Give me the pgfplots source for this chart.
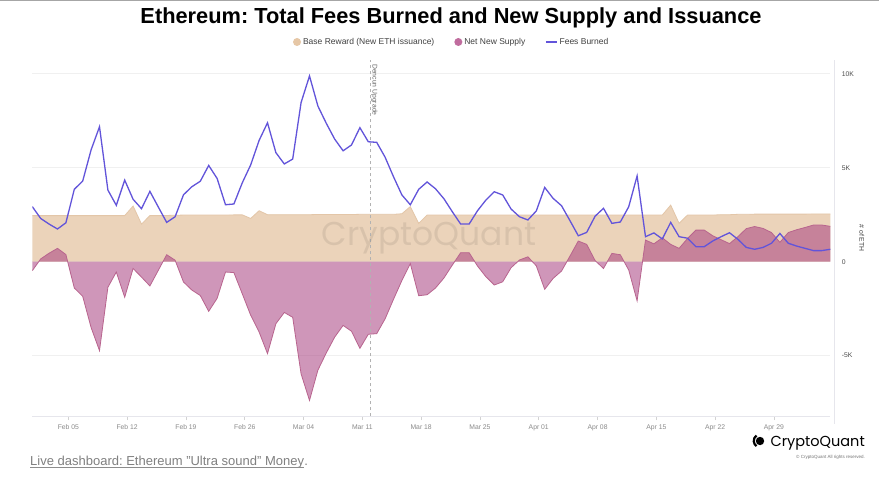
\documentclass[border=0pt]{standalone}
\usepackage{fontspec}
\setmainfont{Liberation Sans}
\newfontfamily\pop{Poppins}
\usepackage{pgfplots}
\pgfplotsset{compat=1.18}
\usepackage{pgfplotstable}
\definecolor{tanc}{HTML}{EBD3BA}
\definecolor{tanline}{HTML}{E3C6A8}
\definecolor{tanleg}{HTML}{E6C7A6}
\definecolor{pinkc}{RGB}{168,64,128}
\definecolor{pinkline}{HTML}{B8648E}
\definecolor{pinkleg}{HTML}{C06C9E}
\definecolor{feec}{HTML}{6254DA}
\definecolor{tickc}{HTML}{8A8A8A}
\definecolor{gridc}{HTML}{F0F0F0}
\definecolor{axc}{HTML}{E6E6EC}

\pgfplotstableread{
i base net fees
0 2.45 -0.48 2.93
1 2.45 0.15 2.30
2 2.45 0.45 2.00
3 2.45 0.71 1.74
4 2.45 0.38 2.07
5 2.45 -1.40 3.85
6 2.45 -1.84 4.29
7 2.45 -3.50 5.95
8 2.45 -4.73 7.18
9 2.45 -1.36 3.81
10 2.45 -0.55 3.00
11 2.45 -1.89 4.34
12 2.96 -0.36 3.32
13 2.00 -0.82 2.82
14 2.45 -1.29 3.74
15 2.45 -0.46 2.91
16 2.46 0.37 2.09
17 2.47 0.08 2.39
18 2.48 -1.08 3.56
19 2.48 -1.51 3.99
20 2.48 -1.80 4.28
21 2.48 -2.64 5.12
22 2.48 -1.95 4.43
23 2.48 -0.55 3.03
24 2.49 -0.58 3.07
25 2.49 -1.71 4.20
26 2.30 -2.85 5.15
27 2.71 -3.74 6.45
28 2.50 -4.89 7.39
29 2.50 -3.30 5.80
30 2.50 -2.70 5.20
31 2.50 -2.96 5.46
32 2.50 -5.97 8.47
33 2.50 -7.38 9.88
34 2.51 -5.77 8.28
35 2.51 -4.85 7.36
36 2.51 -4.01 6.52
37 2.51 -3.39 5.90
38 2.51 -3.70 6.21
39 2.52 -4.61 7.13
40 2.52 -3.86 6.38
41 2.52 -3.83 6.35
42 2.52 -3.04 5.56
43 2.52 -2.00 4.52
44 2.55 -1.00 3.55
45 2.93 -0.10 3.03
46 2.04 -1.81 3.85
47 2.48 -1.76 4.24
48 2.48 -1.40 3.88
49 2.48 -0.87 3.35
50 2.48 -0.18 2.66
51 2.48 0.48 2.00
52 2.48 0.48 2.00
53 2.48 -0.23 2.71
54 2.48 -0.80 3.28
55 2.48 -1.24 3.72
56 2.48 -1.07 3.55
57 2.48 -0.32 2.80
58 2.48 0.09 2.39
59 2.48 0.26 2.22
60 2.48 -0.22 2.70
61 2.48 -1.47 3.95
62 2.48 -0.89 3.37
63 2.48 -0.50 2.98
64 2.48 0.29 2.19
65 2.48 1.10 1.38
66 2.48 0.92 1.56
67 2.48 0.06 2.42
68 2.48 -0.36 2.84
69 2.48 0.44 2.04
70 2.48 0.37 2.11
71 2.48 -0.44 2.92
72 2.48 -2.08 4.56
73 2.48 1.15 1.33
74 2.48 0.95 1.53
75 2.48 1.27 1.21
76 3.01 0.92 2.09
77 2.04 0.71 1.33
78 2.48 1.23 1.25
79 2.48 1.68 0.80
80 2.48 1.68 0.80
81 2.48 1.38 1.10
82 2.50 1.17 1.33
83 2.50 0.96 1.54
84 2.52 1.33 1.19
85 2.52 1.76 0.76
86 2.53 1.87 0.66
87 2.53 1.77 0.76
88 2.53 1.55 0.98
89 2.53 1.03 1.50
90 2.53 1.55 0.98
91 2.53 1.70 0.83
92 2.53 1.82 0.71
93 2.54 1.95 0.59
94 2.54 1.95 0.59
95 2.54 1.88 0.66
}\datatable

\frenchspacing
\begin{document}
\begin{tikzpicture}
\useasboundingbox (0pt,0pt) rectangle (879pt,-491pt);
\fill[white] (0pt,0pt) rectangle (879pt,-491pt);
\draw[gray!70, line width=1.2pt] (0pt,-0.6pt) -- (879pt,-0.6pt);
\node[font=\bfseries\fontsize{21.8}{26}\selectfont] at (451pt,-18pt) {Ethereum: Total Fees Burned and New Supply and Issuance};
\begin{axis}[
  at={(32.3pt,-416pt)}, anchor=south west,
  scale only axis, width=798pt, height=356pt,
  xmin=0, xmax=95, ymin=-8.21, ymax=10.73,
  axis x line*=bottom, axis y line*=right,
  x axis line style={draw=axc, line width=0.8pt, -},
  y axis line style={draw=none},
  xtick={4.29,11.29,18.29,25.29,32.29,39.29,46.29,53.29,60.29,67.29,74.29,81.29,88.29},
  xticklabels={Feb 05,Feb 12,Feb 19,Feb 26,Mar 04,Mar 11,Mar 18,Mar 25,Apr 01,Apr 08,Apr 15,Apr 22,Apr 29},
  tick align=outside, major tick length=4pt,
  xtick style={draw=gray!35, line width=0.6pt},
  xticklabel style={font=\fontsize{6.8}{8}\selectfont, text=tickc, yshift=-1pt},
  ytick={-5,0,5,10}, yticklabels={-5K,0,5K,10K},
  ytick style={draw=none},
  yticklabel style={font=\fontsize{6.8}{8}\selectfont, text=black!70, anchor=west, xshift=4pt},
  ymajorgrids, grid style={gridc, line width=0.6pt},
  ylabel={\# of ETH},
  every axis y label/.style={at={(axis description cs:1,0.5)}, anchor=center, rotate=-90, yshift=31.5pt, font=\fontsize{6.8}{8}\selectfont, text=black!75},
  legend style={at={(axis description cs:0.5255,1.0506)}, anchor=center, draw=none, fill=none,
    font=\fontsize{8.5}{10}\selectfont, text=black!75, legend columns=3,
    /tikz/every even column/.append style={column sep=18pt}},
  legend cell align=left,
]
\addplot[fill=tanc, draw=none,
  legend image code/.code={\fill[tanleg] (4pt,0pt) circle (4pt);}]
  table[x=i,y=base]{\datatable} \closedcycle;
\addlegendentry{Base Reward (New ETH issuance)}
\addplot[fill=pinkc, fill opacity=0.55, draw=none,
  legend image code/.code={\fill[pinkleg, fill opacity=1] (4pt,0pt) circle (4pt);}]
  table[x=i,y=net]{\datatable} \closedcycle;
\addlegendentry{Net New Supply}
\addplot[tanline, line width=0.8pt, forget plot] table[x=i,y=base]{\datatable};
\addplot[pinkline, line width=0.8pt, forget plot] table[x=i,y=net]{\datatable};
\addplot[feec, line width=1.3pt,
  legend image code/.code={\draw[feec, line width=1.3pt] (0pt,0pt) -- (11pt,0pt);}]
  table[x=i,y=fees]{\datatable};
\addlegendentry{Fees Burned}
\addplot[gray!60, dashed, line width=0.6pt, forget plot] coordinates {(40.2,-8.21) (40.2,10.73)};
\end{axis}
% watermark
\node[font=\pop\fontsize{33}{38}\selectfont, text=black, text opacity=0.08, anchor=base] at (429pt,-245pt) {CryptoQuant};
% right axis line
\draw[axc, line width=1.4pt] (834.3pt,-60pt) -- (834.3pt,-424pt);
% Dencun label
\node[font=\fontsize{6.8}{8}\selectfont, text=black!60, rotate=-90, anchor=west, inner sep=0pt] at (374.5pt,-64pt) {Dencun Upgrade};
% footer link
\node[font=\fontsize{13}{15}\selectfont, text=black!50, anchor=base west, inner sep=0pt] (lk) at (30pt,-465pt) {Live dashboard: Ethereum \symbol{34}Ultra sound\symbol{34} Money};
\node[font=\fontsize{13}{15}\selectfont, text=black!50, anchor=base west, inner sep=0pt] at (lk.base east) {.};
\draw[black!45, line width=0.7pt] ([yshift=-2.5pt]lk.base west) -- ([yshift=-2.5pt]lk.base east);
% logo
\fill[black] (760pt,-441pt) circle (4.2pt);
\draw[black, line width=2.2pt] (756.5pt,-435.5pt) arc (125:235:6.5pt);
\node[font=\pop\fontsize{14.5}{16}\selectfont, anchor=base east, inner sep=0pt] at (865pt,-446pt) {CryptoQuant};
\node[font=\fontsize{4.5}{5}\selectfont, text=black!55, anchor=base east, inner sep=0pt] at (865pt,-458pt) {\textcopyright{} CryptoQuant All rights reserved.};
\end{tikzpicture}
\end{document}
